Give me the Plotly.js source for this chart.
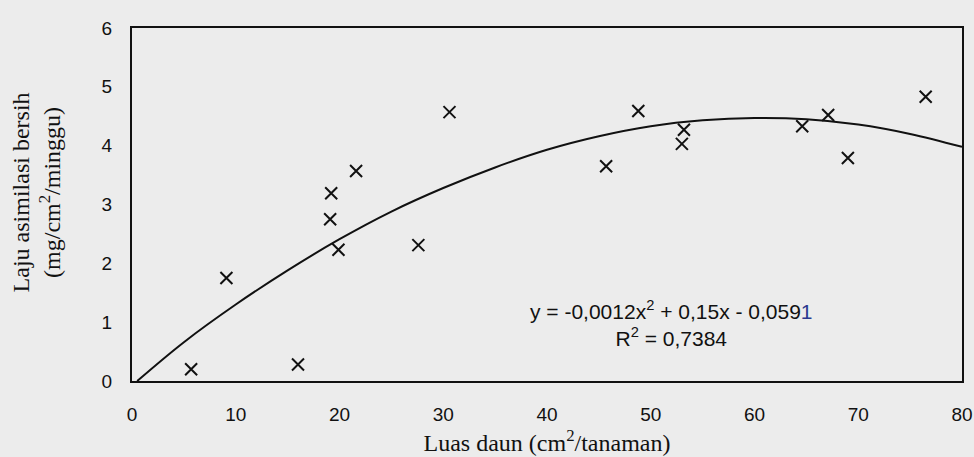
<!DOCTYPE html>
<html>
<head>
<meta charset="utf-8">
<script src="https://cdn.plot.ly/plotly-3.0.1.min.js"></script>
<style>
html,body{margin:0;padding:0;background:#ececec;}
#chart{width:974px;height:457px;}
</style>
</head>
<body>
<div id="chart"></div>
<script>
// Observed points: leaf area (cm2/plant) vs net assimilation rate (mg/cm2/week)
const leafArea = [5.7, 9.1, 16.0, 19.1, 19.2, 19.9, 21.6, 27.6, 30.6, 45.7, 48.8, 53.2, 53.0, 64.6, 67.1, 69.0, 76.5];
const nar      = [0.20, 1.75, 0.28, 2.75, 3.19, 2.23, 3.57, 2.31, 4.57, 3.65, 4.59, 4.27, 4.03, 4.33, 4.52, 3.79, 4.83];

// Trendline
const trendX = [0.5, 5, 10, 15, 20, 25, 30, 35, 40, 45, 50, 55, 60, 65, 70, 75, 80];
const trendY = [0, 0.66, 1.3, 1.88, 2.41, 2.88, 3.28, 3.63, 3.93, 4.16, 4.33, 4.43, 4.47, 4.45, 4.36, 4.2, 3.98];

const xTicks = [0, 10, 20, 30, 40, 50, 60, 70, 80];
const yTicks = [0, 1, 2, 3, 4, 5, 6];

const sans = 'Liberation Sans, Arial, sans-serif';
const serif = 'Liberation Serif, Times New Roman, serif';

const traces = [
  {
    x: trendX, y: trendY, mode: 'lines', type: 'scatter',
    line: {color: '#111111', width: 2, shape: 'spline', smoothing: 1},
    hoverinfo: 'skip', showlegend: false
  },
  {
    x: leafArea, y: nar, mode: 'markers', type: 'scatter',
    marker: {symbol: 'x-thin', size: 12, color: '#111111', line: {color: '#111111', width: 2}},
    showlegend: false
  }
];

const layout = {
  width: 974, height: 457,
  paper_bgcolor: '#ececec', plot_bgcolor: '#ececec',
  margin: {l: 132, r: 12, t: 28, b: 76},
  font: {family: sans, color: '#111111', size: 19},
  xaxis: {
    range: [0, 80], tickvals: xTicks, ticktext: xTicks.map(String),
    showgrid: false, zeroline: false,
    showline: true, mirror: true, linecolor: '#111111', linewidth: 2,
    ticks: '', ticklabelstandoff: 15, ticklabeloverflow: 'allow',
    tickfont: {family: sans, size: 19, color: '#111111'},
    title: {text: 'Luas daun (cm<sup>2</sup>/tanaman)', font: {family: serif, size: 24, color: '#111111'}, standoff: 10}
  },
  yaxis: {
    range: [0, 6], tickvals: yTicks, ticktext: yTicks.map(String),
    showgrid: false, zeroline: false,
    showline: true, mirror: true, linecolor: '#111111', linewidth: 2,
    ticks: '', ticklabelstandoff: 14, ticklabeloverflow: 'allow',
    tickfont: {family: sans, size: 19, color: '#111111'}
  },
  annotations: [
    {
      xref: 'paper', yref: 'paper', x: -0.115, y: 0.533,
      xanchor: 'center', yanchor: 'middle', textangle: -90, showarrow: false,
      text: 'Laju asimilasi bersih<br>(mg/cm<sup>2</sup>/minggu)',
      font: {family: serif, size: 24, color: '#111111'}
    },
    {
      xref: 'x', yref: 'y', x: 52, y: 0.97,
      xanchor: 'center', yanchor: 'middle', showarrow: false, align: 'center',
      text: 'y = -0,0012x<sup>2</sup> + 0,15x - 0,059<span style="color:#2b3a8f">1</span><br>R<sup>2</sup> = 0,7384',
      font: {family: sans, size: 21, color: '#111111'}
    }
  ]
};

Plotly.newPlot('chart', traces, layout, {staticPlot: true, displayModeBar: false});
</script>
</body>
</html>
